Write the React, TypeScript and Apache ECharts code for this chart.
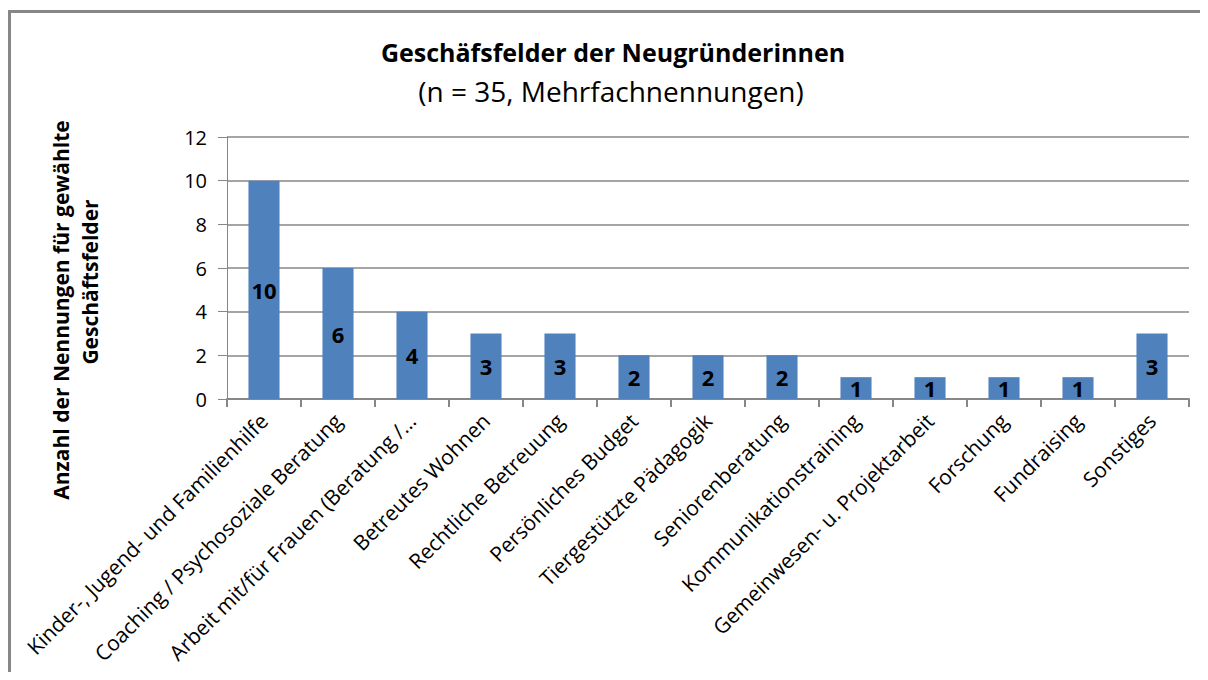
import React, { useEffect, useRef } from "react";
import * as echarts from "echarts";

const categories = [
  "Kinder-, Jugend- und Familienhilfe",
  "Coaching / Psychosoziale Beratung",
  "Arbeit mit/für Frauen (Beratung /…",
  "Betreutes Wohnen",
  "Rechtliche Betreuung",
  "Persönliches Budget",
  "Tiergestützte Pädagogik",
  "Seniorenberatung",
  "Kommunikationstraining",
  "Gemeinwesen- u. Projektarbeit",
  "Forschung",
  "Fundraising",
  "Sonstiges",
];
const values = [10, 6, 4, 3, 3, 2, 2, 2, 1, 1, 1, 1, 3];
const titleText = "Geschäfsfelder der Neugründerinnen";
const subtitleText = "(n = 35, Mehrfachnennungen)";
const yNameLine1 = "Anzahl der Nennungen für gewählte";
const yNameLine2 = "Geschäftsfelder";

const FONT = "'Open Sans', Lato, sans-serif";

export default function App() {
  const ref = useRef<HTMLDivElement>(null);
  useEffect(() => {
    if (!ref.current) return;
    const chart = echarts.init(ref.current, null, { renderer: "svg" });
    chart.setOption({
      animation: false,
      backgroundColor: "#ffffff",
      textStyle: { fontFamily: FONT },
      graphic: [
        {
          type: "line",
          shape: { x1: 0, y1: 3.5, x2: 1200, y2: 3.5 },
          style: { stroke: "#878787", lineWidth: 3 },
          silent: true,
        },
        {
          type: "line",
          shape: { x1: 1.5, y1: 2, x2: 1.5, y2: 664 },
          style: { stroke: "#878787", lineWidth: 3 },
          silent: true,
        },
        {
          type: "text",
          x: 605,
          y: 44,
          style: {
            text: titleText,
            font: `bold 25px ${FONT}`,
            fill: "#000",
            align: "center",
            verticalAlign: "middle",
          },
        },
        {
          type: "text",
          x: 603,
          y: 83,
          style: {
            text: subtitleText,
            font: `28px ${FONT}`,
            fill: "#000",
            align: "center",
            verticalAlign: "middle",
          },
        },
        {
          type: "text",
          x: 53,
          y: 302,
          rotation: Math.PI / 2,
          style: {
            text: yNameLine1,
            font: `bold 21px ${FONT}`,
            fill: "#000",
            align: "center",
            verticalAlign: "middle",
          },
        },
        {
          type: "text",
          x: 82,
          y: 274,
          rotation: Math.PI / 2,
          style: {
            text: yNameLine2,
            font: `bold 21px ${FONT}`,
            fill: "#000",
            align: "center",
            verticalAlign: "middle",
          },
        },
      ],
      grid: { left: 219, right: 19, top: 129, bottom: 273, containLabel: false },
      xAxis: {
        type: "category",
        data: categories,
        axisLine: { lineStyle: { color: "#878787", width: 2 } },
        axisTick: { show: true, length: 8, lineStyle: { color: "#878787", width: 2 } },
        axisLabel: {
          interval: 0,
          rotate: 45,
          margin: 18,
          color: "#000",
          fontSize: 21,
          fontFamily: FONT,
        },
      },
      yAxis: {
        type: "value",
        min: 0,
        max: 12,
        interval: 2,
        axisLine: { show: true, lineStyle: { color: "#878787", width: 1 } },
        axisTick: { show: true, length: 9, lineStyle: { color: "#878787", width: 1 } },
        axisLabel: { color: "#000", fontSize: 20, margin: 20, fontFamily: FONT },
        splitLine: { show: true, lineStyle: { color: "#878787", width: 1.5 } },
      },
      series: [
        {
          type: "bar",
          data: values,
          barWidth: "42%",
          itemStyle: { color: "#4F81BD" },
          label: {
            show: true,
            position: "inside",
            color: "#000",
            fontWeight: "bold",
            fontSize: 22,
            fontFamily: FONT,
          },
        },
      ],
    });
    return () => chart.dispose();
  }, []);
  return <div ref={ref} style={{ width: 1200, height: 664 }} />;
}
